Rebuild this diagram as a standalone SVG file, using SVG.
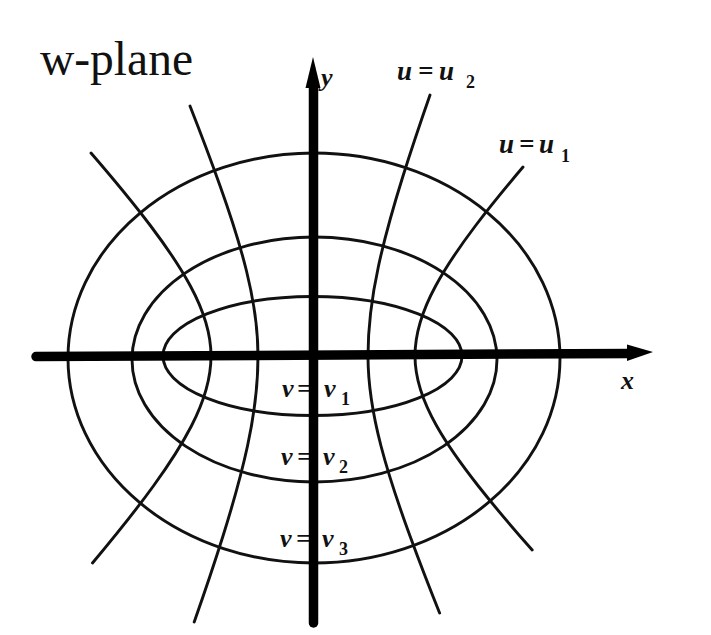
<svg xmlns="http://www.w3.org/2000/svg" width="711" height="635" viewBox="0 0 711 635">
<style>
.c{fill:none;stroke:#111;stroke-width:2.9;stroke-linecap:round}
.ax{stroke:#000;stroke-width:9.5;stroke-linecap:round;fill:none}
.lb{font-family:"Liberation Serif","DejaVu Serif",serif;font-style:italic;font-weight:bold;fill:#111}
.sb{font-style:normal;font-size:18px}
.ttl{font-family:"Liberation Serif","Times New Roman",serif;font-size:47.5px;fill:#111}
</style>
<rect width="711" height="635" fill="#fff"/>
<text class="ttl" x="40" y="75">w-plane</text>
<g id="ellipses">
<ellipse id="v1" class="c" cx="312.5" cy="356" rx="149.5" ry="59.5"/>
<ellipse id="v2" class="c" cx="314.5" cy="359.5" rx="182.5" ry="122.5"/>
<ellipse id="v3" class="c" cx="314" cy="358" rx="246" ry="205"/>
</g>
<g id="hyperbolas">
<path id="u1r" class="c" d="M523,167 C506.3,186.7 490.2,206.3 475.3,226 C460.2,246 446.4,266 435.6,286 C423,309.3 415,332.7 415,356 C415,379.3 423.5,402.7 436.7,426 C448,446 462.6,466 478.3,486 C495.1,507.3 513.3,528.7 532.2,550"/>
<path id="u1l" class="c" d="M91,153 C112,177.3 132.3,201.7 150.7,226 C165.8,246 179.6,266 190.4,286 C203,309.3 211,332.7 211,356 C211,379.3 203.4,402.7 191.4,426 C181.1,446 167.9,466 153.4,486 C134.8,511.7 114,537.3 92.5,563"/>
<path id="u2r" class="c" d="M430,95 C420.6,122 411.5,149 403,176 C393.6,206 385,236 378.5,266 C372,296 368,326 368,356 C368,386 373.2,416 381,446 C388.8,476 399,506 410,536 C419.4,561.7 429.3,587.3 439.6,613"/>
<path id="u2l" class="c" d="M190,106 C200.5,132.7 210.6,159.3 220.1,186 C230.2,214.3 239.5,242.7 246.5,271 C253.5,299.3 258,327.7 258,356 C258,386 254,416 247.5,446 C241,476 232.4,506 223,536 C214,564.7 204.3,593.3 194.2,622"/>
</g>
<g id="labels">
<text class="lb" font-size="27"><tspan x="397" y="80">u</tspan><tspan x="418" y="80">=</tspan><tspan x="439" y="80">u</tspan><tspan class="sb" x="466" y="88">2</tspan></text>
<text class="lb" font-size="27"><tspan x="499" y="153">u</tspan><tspan x="519" y="153">=</tspan><tspan x="539" y="153">u</tspan><tspan class="sb" x="561" y="162">1</tspan></text>
<text class="lb" font-size="26"><tspan x="282" y="397">v</tspan><tspan x="297" y="397">=</tspan><tspan x="324" y="397">v</tspan><tspan class="sb" x="341" y="405">1</tspan></text>
<text class="lb" font-size="26"><tspan x="281" y="465">v</tspan><tspan x="297" y="465">=</tspan><tspan x="323" y="465">v</tspan><tspan class="sb" x="339" y="473">2</tspan></text>
<text class="lb" font-size="26"><tspan x="280" y="547">v</tspan><tspan x="296" y="547">=</tspan><tspan x="322" y="547">v</tspan><tspan class="sb" x="339" y="555">3</tspan></text>
<text class="lb" font-size="26" x="621" y="389">x</text>
<text class="lb" font-size="26" x="321" y="86">y</text>
</g>
<g id="axes">
<line class="ax" x1="36" y1="356.5" x2="632" y2="353.5"/>
<polygon points="653,352 627,344.5 627,361" fill="#000"/>
<line class="ax" x1="313.5" y1="623" x2="313.5" y2="82"/>
<polygon points="313,57 305.5,88 320.5,88" fill="#000"/>
</g>
</svg>
